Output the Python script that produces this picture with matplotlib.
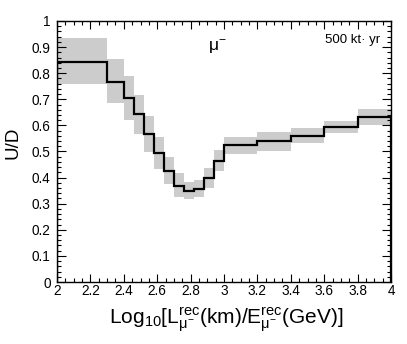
import matplotlib
matplotlib.use("Agg")
import matplotlib.pyplot as plt
from matplotlib.ticker import MultipleLocator, FuncFormatter

plt.rcParams['font.family'] = ['Liberation Sans', 'DejaVu Sans']
plt.rcParams['mathtext.fontset'] = 'custom'
plt.rcParams['mathtext.rm'] = 'Liberation Sans'
plt.rcParams['mathtext.it'] = 'Liberation Sans'
plt.rcParams['mathtext.bf'] = 'Liberation Sans:bold'

# bin edges in Log10[L/E]
edges = [2.0, 2.3, 2.4, 2.46, 2.52, 2.58, 2.64, 2.70, 2.76, 2.82, 2.88, 2.94, 3.0,
         3.2, 3.4, 3.6, 3.8, 4.0]
# central U/D values
ud = [0.843, 0.767, 0.706, 0.645, 0.568, 0.495, 0.426, 0.366, 0.350, 0.355, 0.400,
      0.465, 0.524, 0.539, 0.559, 0.595, 0.632]
# error band (low, high)
band_lo = [0.757, 0.686, 0.620, 0.568, 0.500, 0.434, 0.376, 0.327, 0.319, 0.327, 0.359,
           0.425, 0.490, 0.503, 0.531, 0.570, 0.602]
band_hi = [0.934, 0.853, 0.790, 0.718, 0.635, 0.556, 0.480, 0.416, 0.382, 0.391, 0.435,
           0.506, 0.554, 0.573, 0.589, 0.618, 0.662]

fig = plt.figure(figsize=(4.07, 3.44), dpi=100)
ax = fig.add_axes([57/407, 1-282/344, (391-57)/407, (282-21)/344])

widths = [edges[i+1]-edges[i] for i in range(len(ud))]
heights = [band_hi[i]-band_lo[i] for i in range(len(ud))]
ax.bar(edges[:-1], heights, width=widths, bottom=band_lo, align='edge',
       color='#cccccc', linewidth=0, zorder=1)
ax.stairs(ud, edges, color='black', linewidth=1.6, zorder=2)

ax.set_xlim(2, 4)
ax.set_ylim(0, 1)
ax.xaxis.set_major_locator(MultipleLocator(0.2))
ax.xaxis.set_minor_locator(MultipleLocator(0.05))
ax.yaxis.set_major_locator(MultipleLocator(0.1))
ax.yaxis.set_minor_locator(MultipleLocator(0.02))
fmt = FuncFormatter(lambda v, p: f'{round(v, 2):g}')
ax.xaxis.set_major_formatter(fmt)
ax.yaxis.set_major_formatter(fmt)
ax.tick_params(which='both', direction='in', top=True, right=True, width=0.8,
               labelsize=9.8, colors='black')
ax.tick_params(which='major', length=6)
ax.tick_params(which='minor', length=3)
ax.tick_params(axis='y', which='major', length=6.5, pad=4.5)
ax.tick_params(axis='x', which='major', pad=1.5)
for s in ax.spines.values():
    s.set_linewidth(1.0)

ax.text(2.96, 0.885, r'μ$^{-}$', fontsize=12.5, ha='center', va='baseline')
ax.text(3.935, 0.915, '500 kt· yr', fontsize=9.5, ha='right', va='baseline')

fig.text(226.5/407, 1-324/344,
         r'Log$_{10}$[L$^{\rm rec}_{μ^{-}}$(km)/E$^{\rm rec}_{μ^{-}}$(GeV)]',
         fontsize=15, ha='center', va='baseline')
fig.text(12.6/407, 1-142.5/344, 'U/D', fontsize=13.5, rotation=90,
         ha='center', va='center')

fig.savefig('out.png', dpi=100)
